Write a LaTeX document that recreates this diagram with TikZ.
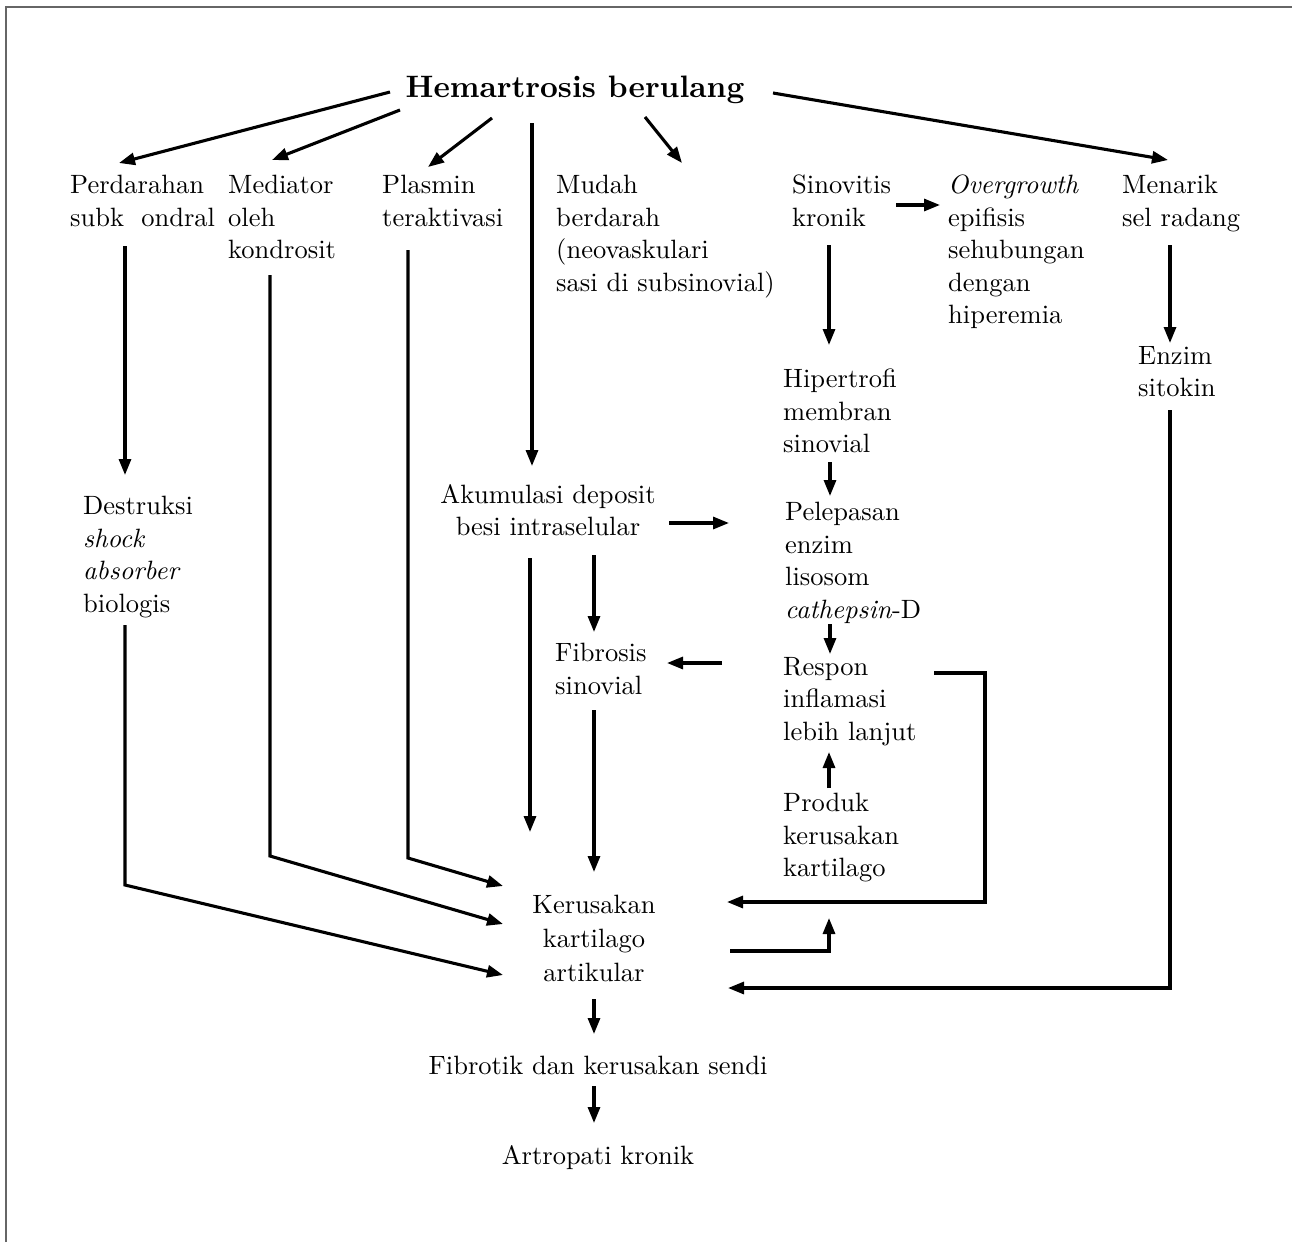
\documentclass[tikz,border=0pt]{standalone}
\usepackage{fontspec}
\setmainfont{lmroman10-regular.otf}[BoldFont=lmroman10-bold.otf, ItalicFont=lmroman10-italic.otf, BoldItalicFont=lmroman10-bolditalic.otf]
\usetikzlibrary{arrows.meta}
\tikzset{
  lbl/.style={inner sep=0pt, anchor=north west, align=left,
    font=\fontsize{26.5}{32.5}\selectfont, execute at begin node=\strut},
  clbl/.style={lbl, anchor=north, align=center},
  arr/.style={draw, line width=3.1pt, line join=miter,
    -{Triangle[length=16pt,width=12pt]}},
  frame/.style={draw=black!60, line width=1.6pt}
}
\begin{document}
\begin{tikzpicture}[x=1pt,y=-1pt]
\useasboundingbox (0,0) rectangle (1292,1242);
\draw[frame] (6,1242) -- (6,7) -- (1292,7);

% nodes
\node[font=\fontsize{31}{36}\selectfont\bfseries, inner sep=0pt, anchor=base] (title) at (575,97) {Hemartrosis berulang};
\node[lbl] (perd) at (70,175) {Perdarahan\\subk\hspace{0.65em}ondral};
\node[lbl] (medi) at (228,175) {Mediator\\oleh\\kondrosit};
\node[lbl] (plas) at (382,175) {Plasmin\\teraktivasi};
\node[lbl] (muda) at (556,175) {Mudah\\berdarah\\(neovaskulari\\sasi di subsinovial)};
\node[lbl] (sino) at (792,175) {Sinovitis\\kronik};
\node[lbl] (over) at (948,175) {\textit{Overgrowth}\\epifisis\\sehubungan\\dengan\\hiperemia};
\node[lbl] (mena) at (1122,175) {Menarik\\sel radang};
\node[lbl] (hipe) at (783,369) {Hipertrofi\\membran\\sinovial};
\node[lbl] (enzi) at (1138,346) {Enzim\\sitokin};
\node[lbl] (dest) at (83,496) {Destruksi\\\textit{shock}\\\textit{absorber}\\biologis};
\node[clbl] (akum) at (548,484) {Akumulasi deposit\\besi intraselular};
\node[lbl] (pele) at (785,502) {Pelepasan\\enzim\\lisosom\\\textit{cathepsin}-D};
\node[lbl] (fibr) at (555,643) {Fibrosis\\sinovial};
\node[lbl] (resp) at (783,657) {Respon\\inflamasi\\lebih lanjut};
\node[lbl] (prod) at (783,793) {Produk\\kerusakan\\kartilago};
\node[clbl, font=\fontsize{26.5}{34}\selectfont] (keru) at (594,895) {Kerusakan\\kartilago\\artikular};
\node[clbl] (fibt) at (598,1052) {Fibrotik dan kerusakan sendi};
\node[clbl] (artr) at (598,1142) {Artropati kronik};

% connector end points
\coordinate (a1s) at (390,92);   \coordinate (a1e) at (119,163);
\coordinate (a2s) at (400,110);  \coordinate (a2e) at (272,160);
\coordinate (a3s) at (492,118);  \coordinate (a3e) at (428,167);
\coordinate (a4s) at (532,123);  \coordinate (a4e) at (532,466);
\coordinate (a5s) at (645,117);  \coordinate (a5e) at (682,163);
\coordinate (a6s) at (773,93);   \coordinate (a6e) at (1168,160);
\coordinate (b1s) at (125,246);  \coordinate (b1e) at (125,475);
\coordinate (b2s) at (896,205);  \coordinate (b2e) at (940,205);
\coordinate (b3s) at (829,245);  \coordinate (b3e) at (829,345);
\coordinate (b4s) at (1170,245); \coordinate (b4e) at (1170,343);
\coordinate (b5s) at (830,462);  \coordinate (b5e) at (830,496);
\coordinate (b6s) at (830,624);  \coordinate (b6e) at (830,654);
\coordinate (b7s) at (669,523);  \coordinate (b7e) at (729,523);
\coordinate (b8s) at (530,558);  \coordinate (b8e) at (530,832);
\coordinate (b9s) at (594,555);  \coordinate (b9e) at (594,632);
\coordinate (b10s) at (722,663); \coordinate (b10e) at (667,663);
\coordinate (b11s) at (594,710); \coordinate (b11e) at (594,872);
\coordinate (b12s) at (934,673); \coordinate (b12a) at (985,673); \coordinate (b12b) at (985,902); \coordinate (b12e) at (727,902);
\coordinate (b13s) at (730,951); \coordinate (b13a) at (829,951); \coordinate (b13e) at (829,918);
\coordinate (b14s) at (829,788); \coordinate (b14e) at (829,752);
\coordinate (b15s) at (1170,410); \coordinate (b15a) at (1170,988); \coordinate (b15e) at (728,988);
\coordinate (b16s) at (125,625); \coordinate (b16a) at (125,885); \coordinate (b16e) at (503,975);
\coordinate (b17s) at (270,275); \coordinate (b17a) at (270,856); \coordinate (b17e) at (503,924);
\coordinate (b18s) at (408,250); \coordinate (b18a) at (408,858); \coordinate (b18e) at (503,886);
\coordinate (b19s) at (594,999); \coordinate (b19e) at (594,1034);
\coordinate (b20s) at (594,1086); \coordinate (b20e) at (594,1123);

% connectors
\draw[arr] (a1s) -- (a1e);
\draw[arr] (a2s) -- (a2e);
\draw[arr] (a3s) -- (a3e);
\draw[arr] (a4s) -- (a4e);
\draw[arr] (a5s) -- (a5e);
\draw[arr] (a6s) -- (a6e);
\draw[arr] (b1s) -- (b1e);
\draw[arr] (b2s) -- (b2e);
\draw[arr] (b3s) -- (b3e);
\draw[arr] (b4s) -- (b4e);
\draw[arr] (b5s) -- (b5e);
\draw[arr] (b6s) -- (b6e);
\draw[arr] (b7s) -- (b7e);
\draw[arr] (b8s) -- (b8e);
\draw[arr] (b9s) -- (b9e);
\draw[arr] (b10s) -- (b10e);
\draw[arr] (b11s) -- (b11e);
\draw[arr] (b12s) -- (b12a) -- (b12b) -- (b12e);
\draw[arr] (b13s) -- (b13a) -- (b13e);
\draw[arr] (b14s) -- (b14e);
\draw[arr] (b15s) -- (b15a) -- (b15e);
\draw[arr] (b16s) -- (b16a) -- (b16e);
\draw[arr] (b17s) -- (b17a) -- (b17e);
\draw[arr] (b18s) -- (b18a) -- (b18e);
\draw[arr] (b19s) -- (b19e);
\draw[arr] (b20s) -- (b20e);
\end{tikzpicture}
\end{document}
